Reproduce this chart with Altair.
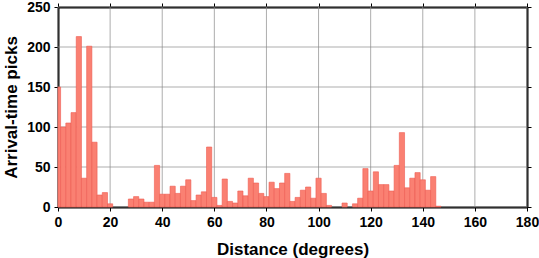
import altair as alt
import pandas as pd

# bin centres (degrees) and counts
centers = list(range(0, 148, 2))
counts = [150, 100, 105, 118, 213, 36, 201, 81, 15, 18,
          4, 0, 0, 0, 10, 13, 10, 6, 6, 52,
          16, 16, 26, 17, 26, 34, 8, 15, 19, 75,
          12, 2, 35, 7, 5, 20, 14, 36, 30, 17,
          13, 31, 23, 30, 42, 7, 12, 21, 25, 11,
          36, 17, 2, 0, 0, 5, 0, 4, 11, 48,
          20, 44, 28, 28, 20, 52, 93, 24, 36, 43,
          34, 21, 38, 1]
x_ticks = [0, 20, 40, 60, 80, 100, 120, 140, 160, 180]
y_ticks = [0, 50, 100, 150, 200, 250]

df = pd.DataFrame({"center": centers, "count": counts})
xt = pd.DataFrame({"t": x_ticks})
yt = pd.DataFrame({"t": y_ticks})

FONT = "Liberation Sans"
GRID = "#8a8a8a"

xscale = alt.Scale(domain=[0, 180], nice=False, zero=False)
yscale = alt.Scale(domain=[0, 250], nice=False)

vgrid = alt.Chart(xt).mark_rule(color=GRID, strokeWidth=0.7).encode(
    x=alt.X("t:Q", scale=xscale, axis=None),
    y=alt.YDatum(0, scale=yscale, axis=None), y2=alt.Y2Datum(250),
)
hgrid = alt.Chart(yt).mark_rule(color=GRID, strokeWidth=0.7).encode(
    y=alt.Y("t:Q", scale=yscale, axis=None),
    x=alt.XDatum(0, scale=xscale, axis=None), x2=alt.X2Datum(180),
)

base = alt.Chart(df).transform_filter("datum.count > 0").transform_calculate(
    x0="max(datum.center - 1, 0)", x1="datum.center + 1"
)

common = dict(domainColor="black", domainWidth=2, tickColor="black",
              tickSize=4, tickWidth=1, grid=False)

bars = base.mark_rect(
    fill="#FA8072", stroke="#EE5A50", strokeWidth=0.6
).encode(
    x=alt.X("x0:Q", scale=xscale, title="Distance (degrees)",
            axis=alt.Axis(values=x_ticks, labelFont=FONT, labelFontSize=14,
                          labelFontWeight="bold", labelColor="black", labelPadding=4,
                          titleFont=FONT, titleFontSize=17, titleFontWeight="bold",
                          titleColor="black", titlePadding=12, labelFlush=False, **common)),
    x2="x1:Q",
    y=alt.Y("count:Q", scale=yscale, title="Arrival-time picks",
            axis=alt.Axis(values=y_ticks, labelFont=FONT, labelFontSize=14,
                          labelFontWeight="bold", labelColor="black", labelPadding=4,
                          titleFont=FONT, titleFontSize=17, titleFontWeight="bold",
                          titleColor="black", titlePadding=6, labelFlush=False, **common)),
    y2=alt.datum(0),
)

frame = base.mark_point(opacity=0).encode(
    x=alt.X("x0:Q", scale=xscale,
            axis=alt.Axis(orient="top", values=x_ticks, labels=False, title=None, **common)),
    y=alt.Y("count:Q", scale=yscale,
            axis=alt.Axis(orient="right", values=y_ticks, labels=False, title=None, **common)),
)

chart = alt.layer(vgrid, hgrid, frame, bars).resolve_axis(
    x="independent", y="independent"
).properties(
    width=469, height=200,
    autosize=alt.AutoSizeParams(type="none"),
    padding={"left": 58, "top": 7, "right": 12, "bottom": 51},
).configure_view(stroke=None)

chart.save("out.html", embed_options={"renderer": "svg", "actions": False})
